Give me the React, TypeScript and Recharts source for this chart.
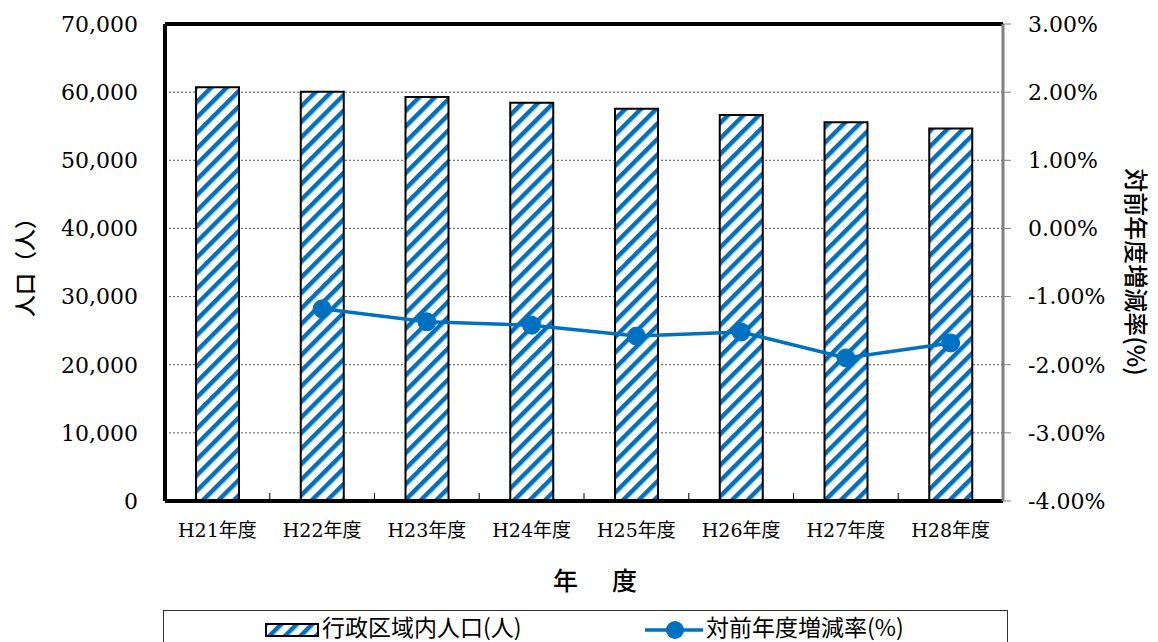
import React from 'react';
import { ComposedChart, Bar, Line, XAxis, YAxis, CartesianGrid, ReferenceLine } from 'recharts';

const years = ['H21年度', 'H22年度', 'H23年度', 'H24年度', 'H25年度', 'H26年度', 'H27年度', 'H28年度'];
const population = [60700, 60050, 59300, 58450, 57550, 56650, 55600, 54650];
const changeRate = [null, -1.18, -1.37, -1.42, -1.58, -1.52, -1.9, -1.68];
const leftTicks = [0, 10000, 20000, 30000, 40000, 50000, 60000, 70000];
const rightTicks = [-4, -3, -2, -1, 0, 1, 2, 3];

const data = years.map((year, i) => ({ year, population: population[i], rate: changeRate[i] }));

const BLUE = '#0070C0';
const SERIF = '"DejaVu Serif", "Noto Sans CJK JP", serif';
const JP = '"Noto Sans CJK JP", sans-serif';

function StripePattern({ id }: { id: string }) {
  return (
    <pattern id={id} patternUnits="userSpaceOnUse" width={11} height={11} patternTransform="rotate(45)">
      <rect x={0} y={0} width={11} height={11} fill="#fff" />
      <rect x={0} y={0} width={4.5} height={11} fill={BLUE} />
    </pattern>
  );
}

function CategoryTick(props: any) {
  const { x, y, payload, index, visibleTicksCount } = props;
  const half = payload && payload.offset ? payload.offset : 52.4;
  const last = index === (visibleTicksCount ?? years.length) - 1;
  return (
    <g>
      {!last && <line x1={x + half} x2={x + half} y1={y - 2} y2={y - 8} stroke="#000" strokeWidth={1} />}
      <text x={x} y={y + 36} textAnchor="middle" fontSize={19} fontFamily={SERIF} fill="#000">
        {payload.value}
      </text>
    </g>
  );
}

export default function App() {
  return (
    <div style={{ position: 'absolute', left: 0, top: 0, width: 1158, height: 642, background: '#fff', overflow: 'hidden' }}>
      <ComposedChart width={1158} height={642} data={data} margin={{ top: 24, right: 0, bottom: 101, left: 0 }}>
        <defs>
          <StripePattern id="stripes" />
        </defs>
        <CartesianGrid yAxisId="left" vertical={false} stroke="#555" strokeDasharray="2 2" />
        <XAxis
          dataKey="year"
          height={40}
          axisLine={{ stroke: '#000', strokeWidth: 4 }}
          tickLine={false}
          tickSize={0}
          tickMargin={0}
          tick={<CategoryTick />}
          interval={0}
        />
        <YAxis
          yAxisId="left"
          width={165}
          domain={[0, 70000]}
          ticks={leftTicks}
          tickFormatter={(v: number) => v.toLocaleString('en-US')}
          axisLine={{ stroke: '#000', strokeWidth: 4 }}
          tickLine={false}
          tickSize={0}
          tickMargin={27}
          tick={{ fontSize: 22, fontFamily: SERIF, fill: '#000' }}
        />
        <YAxis
          yAxisId="right"
          orientation="right"
          width={155}
          domain={[-4, 3]}
          ticks={rightTicks}
          tickFormatter={(v: number) => v.toFixed(2) + '%'}
          axisLine={{ stroke: '#808080', strokeWidth: 3 }}
          tickLine={{ stroke: '#808080' }}
          tickSize={8}
          tickMargin={17}
          tick={{ fontSize: 22, fontFamily: SERIF, fill: '#000', textAnchor: 'start' }}
        />
        <ReferenceLine yAxisId="left" y={70000} stroke="#000" strokeWidth={4} />
        <Bar
          yAxisId="left"
          dataKey="population"
          barSize={43}
          fill="url(#stripes)"
          stroke="#000"
          strokeWidth={2}
          isAnimationActive={false}
        />
        <Line
          yAxisId="right"
          dataKey="rate"
          stroke={BLUE}
          strokeWidth={3.5}
          dot={{ r: 9, fill: BLUE, stroke: BLUE, strokeWidth: 1 }}
          isAnimationActive={false}
        />
      </ComposedChart>
      <svg width={1158} height={642} style={{ position: 'absolute', left: 0, top: 0, pointerEvents: 'none' }}>
        <defs>
          <StripePattern id="legendStripes" />
        </defs>
        <text transform="translate(33,262) rotate(-90)" textAnchor="middle" fontSize={22} fontFamily={JP} fontWeight={500} fill="#000">
          人口（人）
        </text>
        <text transform="translate(1127,272) rotate(90)" textAnchor="middle" fontSize={24} fontFamily={JP} fontWeight={500} fill="#000">
          対前年度増減率(%)
        </text>
        <text x={553} y={590} fontSize={25} letterSpacing={4.5} fontFamily={JP} fontWeight={500} fill="#000">
          年　度
        </text>
        <rect x={163.5} y={610.5} width={844} height={60} fill="#fff" stroke="#333" strokeWidth={1} />
        <rect x={266} y={624} width={52} height={12} fill="url(#legendStripes)" stroke="#000" strokeWidth={2} />
        <text x={322} y={636} fontSize={23} fontFamily={JP} fill="#000">
          行政区域内人口(人)
        </text>
        <line x1={645} x2={703} y1={630} y2={630} stroke={BLUE} strokeWidth={3.5} />
        <circle cx={675} cy={630} r={9} fill={BLUE} />
        <text x={706} y={636} fontSize={23} fontFamily={JP} fill="#000">
          対前年度増減率(%)
        </text>
      </svg>
    </div>
  );
}
